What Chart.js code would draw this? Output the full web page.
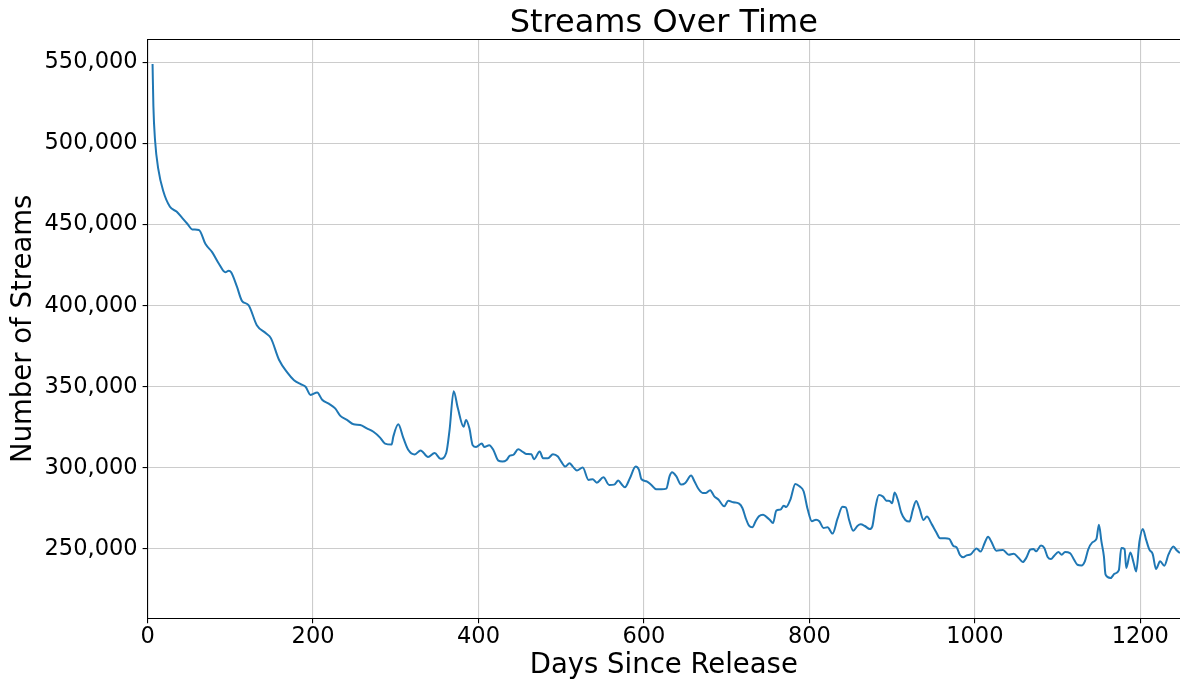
<!DOCTYPE html>
<html>
<head>
<meta charset="utf-8">
<script src="https://cdn.jsdelivr.net/npm/chart.js@4"></script>
<style>
  html, body { margin: 0; padding: 0; background: #ffffff; }
  #wrap { width: 1180px; height: 682px; overflow: hidden; }
</style>
</head>
<body>
<div id="wrap"><canvas id="c" width="1180" height="682"></canvas></div>
<script>
// ---- data ----
const days = [
  6, 7, 9, 13, 19, 27, 35, 42, 48, 54, 62, 70, 78, 86, 94, 98, 101, 108, 114, 122,
  132, 143, 149, 159, 169, 177, 185, 191, 197, 205, 211, 219, 227, 233, 241, 249, 257, 265, 273, 281,
  287, 295, 297, 303, 309, 315, 323, 330, 339, 347, 354, 361, 365, 370, 375, 382, 385, 389, 393, 397,
  404, 407, 413, 418, 424, 429, 434, 438, 442, 448, 454, 458, 464, 467, 474, 478, 484, 490, 496, 500,
  505, 510, 514, 519, 526, 533, 538, 543, 551, 558, 564, 569, 573, 577, 583, 590, 594, 597, 603, 609,
  615, 621, 627, 631, 634, 639, 645, 650, 657, 661, 666, 671, 675, 680, 685, 690, 697, 702, 708, 715,
  719, 723, 727, 731, 735, 739, 744, 748, 752, 756, 760, 765, 769, 772, 777, 783, 788, 793, 798, 803,
  808, 812, 817, 822, 828, 834, 840, 844, 848, 853, 858, 862, 867, 873, 876, 880, 884, 889, 893, 897,
  900, 903, 907, 911, 916, 921, 925, 929, 933, 938, 942, 948, 953, 958, 964, 969, 974, 978, 982, 986,
  990, 995, 1002, 1007, 1012, 1016, 1020, 1026, 1034, 1041, 1047, 1053, 1058, 1062, 1067, 1071, 1074, 1080, 1084, 1088,
  1092, 1096, 1101, 1105, 1109, 1115, 1120, 1124, 1129, 1133, 1137, 1142, 1147, 1150, 1153, 1156, 1158, 1164, 1169, 1174,
  1177, 1181, 1183, 1188, 1192, 1195, 1199, 1203, 1207, 1211, 1215, 1219, 1224, 1229, 1234, 1240, 1244, 1248
];
const streams = [
  549000, 523000, 502000, 484000, 470500, 461000, 458000, 454000, 450500, 447000, 446700, 438000, 433000, 426000, 420600, 421600, 420600, 411700, 403000, 400400,
  388000, 383000, 380000, 366500, 358700, 354000, 351600, 350000, 345000, 346500, 342000, 339600, 336500, 332100, 329600, 326900, 326500, 324400, 322300, 318700,
  315000, 314400, 319200, 326900, 318700, 311200, 308300, 310800, 306700, 309200, 305600, 309200, 323300, 347300, 336900, 325400, 329600, 324400, 314000, 312900,
  315000, 312900, 314000, 311100, 304500, 303900, 304900, 307600, 308000, 311500, 309700, 308600, 308400, 305300, 310100, 306000, 306000, 308400, 307000, 303900,
  300800, 302900, 300800, 298400, 300200, 292600, 293000, 290900, 294200, 289500, 289700, 292200, 289900, 288100, 293600, 300800, 298800, 293000, 291800, 289500,
  286800, 286800, 287200, 294900, 297300, 294900, 289700, 290700, 295300, 291800, 287000, 284600, 284600, 286200, 282500, 280500, 276300, 279800, 278800, 278000,
  275300, 269100, 264400, 263400, 267100, 270200, 271200, 269800, 268100, 266000, 273700, 274300, 276700, 275900, 280500, 290100, 288700, 285600, 274300, 267100,
  268100, 267100, 263000, 263400, 259500, 268700, 276000, 275700, 267900, 261300, 264200, 265200, 264200, 262300, 263800, 276100, 283300, 282300, 279800, 279600,
  278200, 284800, 280200, 272400, 267900, 266900, 274100, 279600, 275100, 267900, 270000, 265200, 260700, 256600, 256600, 256200, 251900, 251000, 246300, 244900,
  246100, 246700, 250400, 248400, 253900, 257600, 254500, 249000, 249400, 246500, 247100, 244400, 242000, 244400, 249600, 250000, 248600, 252100, 250600, 245100,
  243800, 245900, 248100, 246500, 248100, 247500, 243400, 240300, 239900, 242400, 249600, 254100, 256200, 265000, 254700, 245500, 234200, 232100, 234800, 236800,
  250600, 250000, 238300, 247900, 241400, 236200, 254700, 262300, 255800, 249600, 246900, 237700, 242400, 239700, 246500, 251600, 249200, 247500
];
const xTickValues = [0, 200, 400, 600, 800, 1000, 1200];
const yTickValues = [250000, 300000, 350000, 400000, 450000, 500000, 550000];
const chartTitle = 'Streams Over Time';
const xLabel = 'Days Since Release';
const yLabel = 'Number of Streams';
const xRange = [0, 1248];
const yRange = [207300, 564200];

// ---- chart ----
const FONT = 'DejaVu Sans';
const points = days.map((d, i) => ({ x: d, y: streams[i] }));

new Chart(document.getElementById('c'), {
  type: 'line',
  data: {
    datasets: [{
      data: points,
      borderColor: '#1f77b4',
      borderWidth: 2,
      pointRadius: 0,
      fill: false,
      cubicInterpolationMode: 'monotone'
    }]
  },
  options: {
    responsive: false,
    devicePixelRatio: 1,
    animation: false,
    layout: { padding: 0 },
    plugins: { legend: { display: false }, title: { display: false }, tooltip: { enabled: false } },
    scales: {
      x: {
        type: 'linear',
        position: 'bottom',
        min: xRange[0], max: xRange[1],
        afterBuildTicks: s => { s.ticks = xTickValues.map(v => ({ value: v })); },
        afterFit: s => { s.height = 63.7; },
        ticks: { font: { family: FONT, size: 22.5 }, color: '#000', padding: 0, maxRotation: 0, autoSkip: false,
                 callback: v => String(v) },
        grid: { color: '#cccccc', lineWidth: 1.1, tickColor: '#000', tickLength: 5, drawTicks: true },
        border: { display: true, color: '#000', width: 1.1 },
        title: { display: true, text: xLabel, font: { family: FONT, size: 27.5 }, color: '#000', padding: { top: 0, bottom: 0 } }
      },
      x2: {
        type: 'linear',
        position: 'top',
        min: xRange[0], max: xRange[1],
        afterFit: s => { s.height = 39.3; },
        ticks: { display: false },
        grid: { display: false, drawTicks: false },
        border: { display: true, color: '#000', width: 1.1 },
        title: { display: true, text: chartTitle, font: { family: FONT, size: 32 }, color: '#000', padding: { top: 4, bottom: 0 } }
      },
      y: {
        type: 'linear',
        position: 'left',
        min: yRange[0], max: yRange[1],
        afterBuildTicks: s => { s.ticks = yTickValues.map(v => ({ value: v })); },
        afterFit: s => { s.width = 147.6; },
        ticks: { font: { family: FONT, size: 22.5 }, color: '#000', padding: 5, autoSkip: false,
                 callback: v => Number(v).toLocaleString('en-US') },
        grid: { color: '#cccccc', lineWidth: 1.1, tickColor: '#000', tickLength: 5, drawTicks: true },
        border: { display: true, color: '#000', width: 1.1 },
        title: { display: true, text: yLabel, font: { family: FONT, size: 27.5 }, color: '#000', padding: { top: 7, bottom: 0 } }
      }
    }
  }
});
</script>
</body>
</html>
